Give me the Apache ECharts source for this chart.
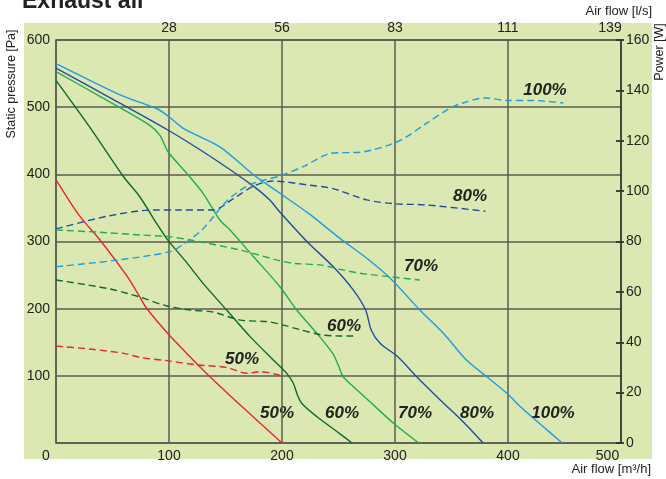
<!DOCTYPE html>
<html>
<head>
<meta charset="utf-8">
<script src="https://cdn.jsdelivr.net/npm/echarts@6/dist/echarts.min.js"></script>
<style>
html,body{margin:0;padding:0;background:#fff;}
#c{width:666px;height:479px;}
</style>
</head>
<body>
<div id="c"></div>
<script>
// ---- Data (air flow m3/h, static pressure Pa) ----
const pressure100 = [[0,565],[30,540],[60,516],[89,498],[99,487],[113,468],[145,441],[175,399],[198,372],[225,340],[251,305],[275,275],[296,245],[322,198],[343,163],[363,124],[381,99],[399,74],[411,54],[430,26],[448,0]];
const pressure80 = [[0,558],[50,512],[99,466],[139,424],[175,382],[189,362],[198,344],[222,300],[245,263],[263,228],[274,198],[279,168],[287,148],[302,129],[319,99],[340,64],[360,32],[378,0]];
const pressure70 = [[0,553],[40,515],[83,473],[92,458],[99,434],[116,401],[130,372],[145,332],[154,317],[175,277],[198,233],[213,198],[231,163],[245,133],[250,115],[254,99],[263,84],[280,58],[299,29],[321,0]];
const pressure60 = [[0,540],[30,470],[60,396],[74,367],[89,327],[99,302],[115,270],[130,238],[151,198],[172,158],[192,124],[204,104],[210,89],[214,70],[218,58],[231,39],[251,14],[262,0]];
const pressure50 = [[0,392],[20,340],[40,300],[63,248],[74,218],[80,201],[99,163],[116,133],[133,104],[166,52],[200,0]];
// ---- Data (air flow m3/h, power W) ----
const power100 = [[0,70],[54,72.6],[101,76],[113,79],[130,85],[151,96],[169,102],[181,104],[198,106],[220,110],[243,115],[272,115.6],[304,120],[328,127],[349,133],[360,135],[380,137],[399,136],[422,136],[449,135]];
const power80 = [[0,85],[45,90],[86,92.5],[110,92.5],[139,92.5],[157,97],[175,102],[192,104],[222,102.5],[245,101],[275,96.5],[299,95],[328,94.5],[380,92]];
const power70 = [[0,84.6],[45,83.5],[74,82.6],[98,82],[119,80.6],[163,76.6],[196,72.6],[211,71.3],[234,70.7],[251,69],[269,67.4],[296,66],[322,64.7]];
const power60 = [[0,64.7],[45,61.4],[74,58],[98,54.4],[119,52.8],[139,52],[163,48.8],[187,48.2],[198,47.2],[216,45],[234,43],[251,42.5],[263,42.5]];
const power50 = [[0,38.5],[30,37.3],[60,35.6],[74,34],[98,32.7],[125,31],[151,30],[169,27.7],[181,28.3],[200,26.6]];
// ---- Tick labels ----
const flowTicks = [0,100,200,300,400,500];
const lsTickLabels = {100:'28',200:'56',300:'83',400:'111',500:'139'};
const speedLabels = ['100%','80%','70%','60%','50%'];

const colors = {'100%':'#1b9ddf','80%':'#1e4ea3','70%':'#1fae4c','60%':'#0c6a30','50%':'#ea2530'};
const gridColor = '#5b5b52';
const txt = '#222';
const F = 'Liberation Sans, Arial, sans-serif';

function solid(name, data){
  return {type:'line', name:name+' p', data:data, xAxisIndex:0, yAxisIndex:0, showSymbol:false, smooth:0.3,
    lineStyle:{color:colors[name], width:1.4}, z:5, silent:true};
}
function dashed(name, data){
  return {type:'line', name:name+' w', data:data, xAxisIndex:0, yAxisIndex:1, showSymbol:false, smooth:0.3,
    lineStyle:{color:colors[name], width:1.4, type:[7,4]}, z:5, silent:true};
}

const chart = echarts.init(document.getElementById('c'), null, {renderer:'canvas'});
const labelFont = {fontFamily:F, fontSize:14, color:txt};
const legendStyle = {fontFamily:F, fontSize:17, fontWeight:'bold', fontStyle:'italic', fill:'#222'};

const option = {
  animation:false,
  backgroundColor:'#ffffff',
  grid:[
    {left:56, right:45, top:40, bottom:36, containLabel:false},
    {left:56, right:45, top:40, bottom:36, containLabel:false}
  ],
  xAxis:[
    {type:'value', gridIndex:0, position:'bottom', min:0, max:500, interval:100,
      axisLine:{show:true, onZero:false, lineStyle:{color:gridColor, width:1.5}},
      axisTick:{show:false},
      splitLine:{show:true, lineStyle:{color:gridColor, width:1.5}},
      axisLabel:Object.assign({margin:6, formatter:function(v){
          if(v===0) return '{a|0}';
          if(v===500) return '{b|500}';
          return String(v);
        }, rich:{a:{fontFamily:F,fontSize:14,color:txt,padding:[0,20,0,0]}, b:{fontFamily:F,fontSize:14,color:txt,padding:[0,27,0,0]}}}, labelFont)
    },
    {type:'value', gridIndex:0, position:'top', min:0, max:500, interval:100,
      axisLine:{show:true, onZero:false, lineStyle:{color:gridColor, width:1.5}},
      axisTick:{show:false}, splitLine:{show:false},
      axisLabel:Object.assign({margin:5, showMinLabel:false, formatter:function(v){
          if(v===500) return '{b|'+lsTickLabels[v]+'}';
          return lsTickLabels[v] || '';
        }, rich:{b:{fontFamily:F,fontSize:14,color:txt,padding:[0,22,0,0]}}}, labelFont)
    },
    {type:'value', gridIndex:1, min:0, max:500, show:false, axisLine:{onZero:false}}
  ],
  yAxis:[
    {type:'value', gridIndex:0, position:'left', min:0, max:600, interval:100,
      axisLine:{show:true, onZero:false, lineStyle:{color:gridColor, width:1.5}},
      axisTick:{show:false},
      splitLine:{show:true, lineStyle:{color:gridColor, width:1.5}},
      axisLabel:Object.assign({margin:6, showMinLabel:false}, labelFont)
    },
    {type:'value', gridIndex:0, position:'right', min:0, max:160, interval:20,
      axisLine:{show:true, onZero:false, lineStyle:{color:'#333', width:1.5}},
      axisTick:{show:true, inside:false, length:3, lineStyle:{color:'#333', width:1.8}},
      splitLine:{show:false},
      axisLabel:Object.assign({margin:5}, labelFont)
    },
    {type:'value', gridIndex:1, position:'right', min:0, max:160, interval:20,
      axisLine:{show:false, onZero:false},
      axisTick:{show:true, inside:true, length:5, lineStyle:{color:'#333', width:1.8}},
      splitLine:{show:false}, axisLabel:{show:false}
    }
  ],
  series:[
    solid('100%', pressure100), solid('80%', pressure80), solid('70%', pressure70), solid('60%', pressure60), solid('50%', pressure50),
    dashed('100%', power100), dashed('80%', power80), dashed('70%', power70), dashed('60%', power60), dashed('50%', power50)
  ],
  graphic:[
    {type:'rect', silent:true, z:-100, shape:{x:24, y:23, width:628, height:436}, style:{fill:'#dce8b1'}},
    {type:'text', silent:true, left:22, top:-10, style:{text:'Exhaust air', font:'bold 23px '+F, fill:'#222'}},
    {type:'text', silent:true, right:14, top:5, style:{text:'Air flow [l/s]', font:'13px '+F, fill:txt}},
    {type:'text', silent:true, right:15, top:463, style:{text:'Air flow [m³/h]', font:'13px '+F, fill:txt}},
    {type:'text', silent:true, x:12, y:84, rotation:Math.PI/2, style:{text:'Static pressure [Pa]', font:'12.5px '+F, fill:txt, align:'center', verticalAlign:'middle'}},
    {type:'text', silent:true, x:660, y:52, rotation:Math.PI/2, style:{text:'Power [W]', font:'12.5px '+F, fill:txt, align:'center', verticalAlign:'middle'}},
    // curve labels
    {type:'text', silent:true, x:545, y:90, style:Object.assign({text:speedLabels[0], align:'center', verticalAlign:'middle'}, legendStyle)},
    {type:'text', silent:true, x:470, y:196, style:Object.assign({text:speedLabels[1], align:'center', verticalAlign:'middle'}, legendStyle)},
    {type:'text', silent:true, x:421, y:266, style:Object.assign({text:speedLabels[2], align:'center', verticalAlign:'middle'}, legendStyle)},
    {type:'text', silent:true, x:344, y:326, style:Object.assign({text:speedLabels[3], align:'center', verticalAlign:'middle'}, legendStyle)},
    {type:'text', silent:true, x:242, y:359, style:Object.assign({text:speedLabels[4], align:'center', verticalAlign:'middle'}, legendStyle)},
    {type:'text', silent:true, x:553, y:413, style:Object.assign({text:speedLabels[0], align:'center', verticalAlign:'middle'}, legendStyle)},
    {type:'text', silent:true, x:477, y:413, style:Object.assign({text:speedLabels[1], align:'center', verticalAlign:'middle'}, legendStyle)},
    {type:'text', silent:true, x:415, y:413, style:Object.assign({text:speedLabels[2], align:'center', verticalAlign:'middle'}, legendStyle)},
    {type:'text', silent:true, x:342, y:413, style:Object.assign({text:speedLabels[3], align:'center', verticalAlign:'middle'}, legendStyle)},
    {type:'text', silent:true, x:277, y:413, style:Object.assign({text:speedLabels[4], align:'center', verticalAlign:'middle'}, legendStyle)}
  ]
};
chart.setOption(option);
</script>
</body>
</html>
